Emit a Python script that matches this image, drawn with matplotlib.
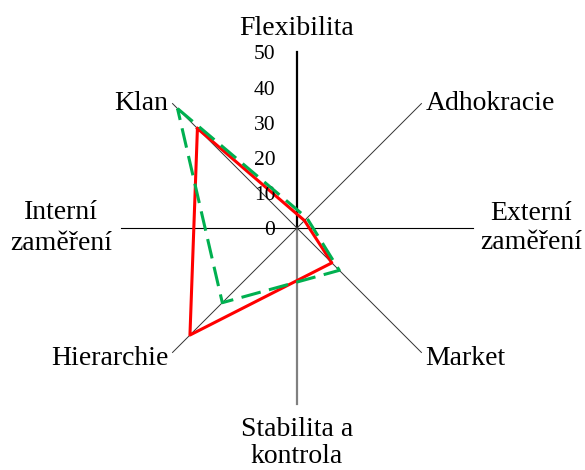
import numpy as np
import matplotlib
matplotlib.use("Agg")
import matplotlib.pyplot as plt

plt.rcParams['font.family'] = ['Liberation Serif', 'DejaVu Serif']

# competing values framework - 4 culture types
categories = ['Klan', 'Adhokracie', 'Market', 'Hierarchie']
angles_deg = [135, 45, -45, -135]
current = [40, 3, 14, 43]     # red, solid
preferred = [48, 4, 17, 30]   # green, dashed
ticks = [0, 10, 20, 30, 40, 50]
rmax = 50

fig = plt.figure(figsize=(5.85, 4.7), dpi=100)
ax = fig.add_axes([0.2068, 0.1404, 0.6017, 0.7489], projection='polar')
ax.set_ylim(0, rmax)
ax.grid(False)
ax.spines['polar'].set_visible(False)
ax.set_xticks([])
ax.set_yticks([])
ax.patch.set_alpha(0)

th = np.deg2rad(angles_deg)

# axis cross
ax.plot([0, 0], [0, rmax], color='black', lw=0.8, clip_on=False)
ax.plot([np.pi, np.pi], [0, rmax], color='black', lw=0.8, clip_on=False)
ax.plot([np.pi / 2, np.pi / 2], [0, rmax], color='black', lw=1.6, clip_on=False)
ax.plot([-np.pi / 2, -np.pi / 2], [0, rmax], color='#808080', lw=1.6, clip_on=False)
for t in th:
    ax.plot([t, t], [0, rmax], color='#333333', lw=0.7, clip_on=False)

# data polygons
ax.plot(np.append(th, th[0]), current + current[:1], color='#ff0000', lw=2.2,
        clip_on=False, zorder=3)
ax.plot(np.append(th, th[0]), preferred + preferred[:1], color='#00b050', lw=2.2,
        ls=(0, (6.5, 2.8)), clip_on=False, zorder=4)

# value labels
for v in ticks:
    ax.annotate(str(v), (np.pi / 2, v), xytext=(-15.5, -2), textcoords='offset points',
                ha='right', va='center', fontsize=15.5)

# diagonal category labels
for t, name in zip(th, categories):
    dx = 3 if np.cos(t) > 0 else -3
    dy = 0 if np.sin(t) > 0 else -4
    ax.annotate(name, (t, rmax), xytext=(dx, dy), textcoords='offset points',
                ha='left' if dx > 0 else 'right', va='center', fontsize=20)

# main dimension labels
ax.annotate('Flexibilita', (np.pi / 2, rmax), xytext=(0, 8), textcoords='offset points',
            ha='center', va='bottom', fontsize=20)
ax.annotate('Stabilita a\nkontrola', (-np.pi / 2, rmax), xytext=(0, -9), textcoords='offset points',
            ha='center', va='top', fontsize=20, linespacing=1.12)
ax.annotate('Interní\nzaměření', (np.pi, rmax), xytext=(-43, 0), textcoords='offset points',
            ha='center', va='center', fontsize=20, linespacing=1.3)
ax.annotate('Externí\nzaměření', (0, rmax), xytext=(42, 0), textcoords='offset points',
            ha='center', va='center', fontsize=20, linespacing=1.25)

fig.savefig('out.png', dpi=100)
